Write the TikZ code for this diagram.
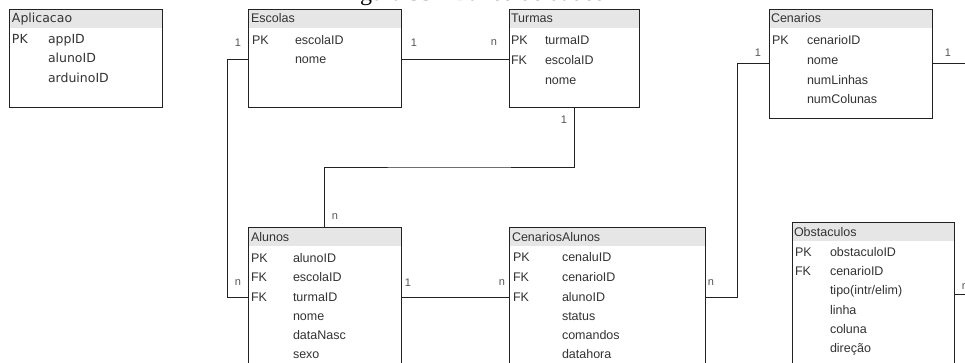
\documentclass[tikz,border=0pt]{standalone}
\usepackage{fontspec}
\setmainfont{Liberation Sans}
\newfontfamily\apfont{DejaVu Sans}
\newfontfamily\capfont{Liberation Serif}
\usetikzlibrary{calc}
\definecolor{hdr}{HTML}{E6E6E6}
\definecolor{txt}{HTML}{333333}
\definecolor{lbl}{HTML}{555555}
\definecolor{edge}{HTML}{222222}
\begin{document}
\begin{tikzpicture}[x=1pt,y=-1pt,
  every node/.style={inner sep=0pt,outer sep=0pt},
  tbl/.style={draw=edge,line width=0.9pt,anchor=north west},
  hdrbar/.style={fill=hdr,anchor=north west,minimum height=19pt},
  fld/.style={anchor=base west,text=txt,font=\fontsize{12.5}{14}\selectfont},
  apfld/.style={anchor=base west,text=txt,font=\apfont\fontsize{12.5}{14}\selectfont},
  card/.style={text=lbl,font=\fontsize{11}{13}\selectfont},
  conn/.style={draw=edge,line width=0.9pt}]
\useasboundingbox (0,0) rectangle (965,363);
\fill[white] (0,0) rectangle (965,363);
\clip (0,0) rectangle (965,363);

% caption (cut off at top)
\node[anchor=base west,font=\capfont\fontsize{24}{28}\selectfont] (cap) at (340,1) {Figura 33 - Banco de dados};

% Aplicacao
\node[hdrbar,minimum width=153pt] (apH) at (9,9) {};
\node[tbl,minimum width=153pt,minimum height=98pt] (ap) at (9,9) {};
\node[apfld] (apT) at (12,23) {Aplicacao};
\node[apfld] (apK1) at (12,43.5) {PK};
\node[apfld] (apF1) at (48,43.5) {appID};
\node[apfld] (apF2) at (48,63) {alunoID};
\node[apfld] (apF3) at (48,82.5) {arduinoID};

% Escolas
\node[hdrbar,minimum width=153pt] (escH) at (248,9) {};
\node[tbl,minimum width=153pt,minimum height=98pt] (esc) at (248,9) {};
\node[fld] (escT) at (251,23) {Escolas};
\node[fld] (escK1) at (252,44.5) {PK};
\node[fld] (escF1) at (295,44.5) {escolaID};
\node[fld] (escF2) at (295,63.5) {nome};

% Turmas
\node[hdrbar,minimum width=130pt] (turH) at (509,9) {};
\node[tbl,minimum width=130pt,minimum height=98pt] (tur) at (509,9) {};
\node[fld] (turT) at (511,23) {Turmas};
\node[fld] (turK1) at (511,44.5) {PK};
\node[fld] (turF1) at (545,44.5) {turmaID};
\node[fld] (turK2) at (511,64.5) {FK};
\node[fld] (turF2) at (545,64.5) {escolaID};
\node[fld] (turF3) at (545,84.5) {nome};

% Cenarios
\node[hdrbar,minimum width=163pt] (cenH) at (769,9) {};
\node[tbl,minimum width=163pt,minimum height=109pt] (cen) at (769,9) {};
\node[fld] (cenT) at (771,23) {Cenarios};
\node[fld] (cenK1) at (772,44.5) {PK};
\node[fld] (cenF1) at (807,44.5) {cenarioID};
\node[fld] (cenF2) at (807,64.5) {nome};
\node[fld] (cenF3) at (807,84.5) {numLinhas};
\node[fld] (cenF4) at (807,104) {numColunas};

% Alunos
\node[hdrbar,minimum width=153pt] (aluH) at (248,227) {};
\node[tbl,minimum width=153pt,minimum height=180pt] (alu) at (248,227) {};
\node[fld] (aluT) at (251,241.5) {Alunos};
\node[fld] (aluK1) at (251,262.5) {PK};
\node[fld] (aluF1) at (293,262.5) {alunoID};
\node[fld] (aluK2) at (251,281.5) {FK};
\node[fld] (aluF2) at (293,281.5) {escolaID};
\node[fld] (aluK3) at (251,301.5) {FK};
\node[fld] (aluF3) at (293,301.5) {turmaID};
\node[fld] (aluF4) at (293,320.5) {nome};
\node[fld] (aluF5) at (293,339.5) {dataNasc};
\node[fld] (aluF6) at (293,358.5) {sexo};

% CenariosAlunos
\node[hdrbar,minimum width=196pt] (caH) at (509,227) {};
\node[tbl,minimum width=196pt,minimum height=180pt] (ca) at (509,227) {};
\node[fld] (caT) at (512,241.5) {CenariosAlunos};
\node[fld] (caK1) at (513,261.5) {PK};
\node[fld] (caF1) at (562,261.5) {cenaluID};
\node[fld] (caK2) at (513,281.5) {FK};
\node[fld] (caF2) at (562,281.5) {cenarioID};
\node[fld] (caK3) at (513,301.5) {FK};
\node[fld] (caF3) at (562,301.5) {alunoID};
\node[fld] (caF4) at (562,320.5) {status};
\node[fld] (caF5) at (562,339.5) {comandos};
\node[fld] (caF6) at (562,358.5) {datahora};

% Obstaculos
\node[hdrbar,minimum width=162pt] (obsH) at (792,222) {};
\node[tbl,minimum width=162pt,minimum height=180pt] (obs) at (792,222) {};
\node[fld] (obsT) at (794,236.5) {Obstaculos};
\node[fld] (obsK1) at (795,256.5) {PK};
\node[fld] (obsF1) at (830,256.5) {obstaculoID};
\node[fld] (obsK2) at (795,275.5) {FK};
\node[fld] (obsF2) at (830,275.5) {cenarioID};
\node[fld] (obsF3) at (830,294.5) {tipo(intr/elim)};
\node[fld] (obsF4) at (830,314.5) {linha};
\node[fld] (obsF5) at (830,333.5) {coluna};
\node[fld] (obsF6) at (830,352.5) {direção};

% connectors
\coordinate (turAlu) at ($(tur.south)!0.5!(alu.north)$);
\coordinate (cenOut) at (975,63.5);
\coordinate (obsOut) at (975,294);
\draw[conn] ($(esc.north east)+(0,50)$) -- ($(tur.north west)+(0,50)$);
\draw[conn] ($(esc.north west)+(0,50)$) -- ++(-21,0) |- ($(alu.north west)+(0,70)$);
\draw[conn] (tur.south) |- (turAlu) -| (alu.north);
\draw[conn] ($(alu.north east)+(0,70)$) -- ($(ca.north west)+(0,70)$);
\draw[conn] ($(ca.north east)+(0,70)$) -- ++(32,0) |- (cen.west);
\draw[conn] (cen.east) -- (cenOut);
\draw[conn] ($(obs.north east)+(0,72)$) -- (obsOut);

% cardinalities
\node[card] (c1) at (238,43) {1};
\node[card] (c2) at (414,43) {1};
\node[card] (c3) at (494,43) {n};
\node[card] (c4) at (564,120) {1};
\node[card] (c5) at (335,217) {n};
\node[card] (c6) at (238,283) {n};
\node[card] (c7) at (408,283) {1};
\node[card] (c8) at (502,283) {n};
\node[card] (c9) at (711,283) {n};
\node[card] (c10) at (758,53) {1};
\node[card] (c11) at (948,53) {1};
\node[card] (c12) at (965,287) {n};
\end{tikzpicture}
\end{document}
